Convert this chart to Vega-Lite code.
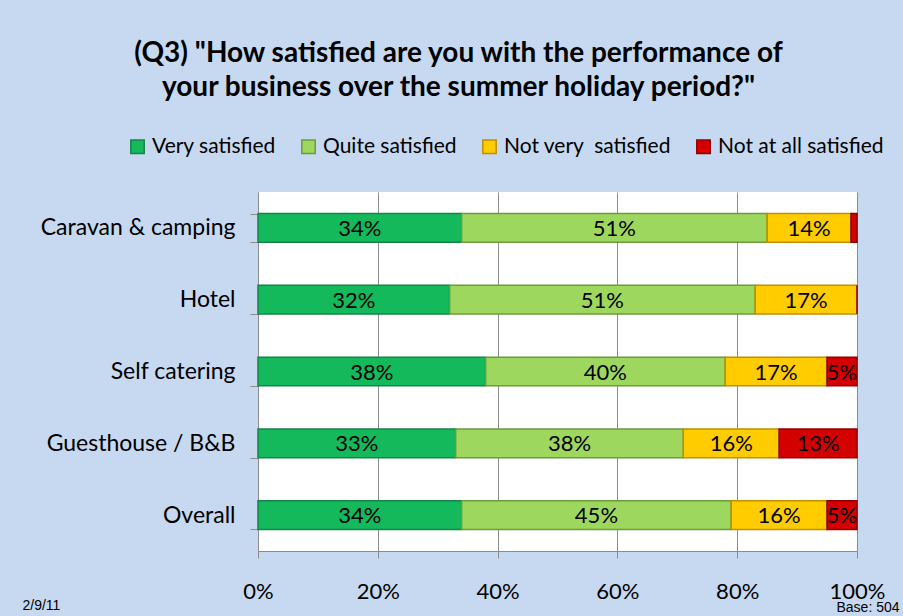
{
  "$schema": "https://vega.github.io/schema/vega-lite/v6.json",
  "width": 599,
  "height": 359,
  "autosize": {"type": "none"},
  "padding": {"left": 258, "top": 192, "right": 46, "bottom": 65},
  "background": "#C6D9F1",
  "config": {
    "view": {"stroke": null, "fill": "white"},
    "font": "Lato"
  },
  "title": {
    "text": ["(Q3) \"How satisfied are you with the performance of", "your business over the summer holiday period?\""],
    "fontSize": 28,
    "fontWeight": "bold",
    "font": "Lato",
    "color": "black",
    "anchor": "middle",
    "frame": "group",
    "dx": -99,
    "lineHeight": 34,
    "offset": 34
  },
  "data": {
    "values": [
      {"type": "Caravan & camping", "level": "Very satisfied", "k": 1, "pct": 34},
      {"type": "Caravan & camping", "level": "Quite satisfied", "k": 2, "pct": 51},
      {"type": "Caravan & camping", "level": "Not very  satisfied", "k": 3, "pct": 14},
      {"type": "Caravan & camping", "level": "Not at all satisfied", "k": 4, "pct": 1},
      {"type": "Hotel", "level": "Very satisfied", "k": 1, "pct": 32},
      {"type": "Hotel", "level": "Quite satisfied", "k": 2, "pct": 51},
      {"type": "Hotel", "level": "Not very  satisfied", "k": 3, "pct": 17},
      {"type": "Hotel", "level": "Not at all satisfied", "k": 4, "pct": 0},
      {"type": "Self catering", "level": "Very satisfied", "k": 1, "pct": 38},
      {"type": "Self catering", "level": "Quite satisfied", "k": 2, "pct": 40},
      {"type": "Self catering", "level": "Not very  satisfied", "k": 3, "pct": 17},
      {"type": "Self catering", "level": "Not at all satisfied", "k": 4, "pct": 5},
      {"type": "Guesthouse / B&B", "level": "Very satisfied", "k": 1, "pct": 33},
      {"type": "Guesthouse / B&B", "level": "Quite satisfied", "k": 2, "pct": 38},
      {"type": "Guesthouse / B&B", "level": "Not very  satisfied", "k": 3, "pct": 16},
      {"type": "Guesthouse / B&B", "level": "Not at all satisfied", "k": 4, "pct": 13},
      {"type": "Overall", "level": "Very satisfied", "k": 1, "pct": 34},
      {"type": "Overall", "level": "Quite satisfied", "k": 2, "pct": 45},
      {"type": "Overall", "level": "Not very  satisfied", "k": 3, "pct": 16},
      {"type": "Overall", "level": "Not at all satisfied", "k": 4, "pct": 5}
    ]
  },
  "transform": [
    {"stack": "pct", "groupby": ["type"], "sort": [{"field": "k", "order": "ascending"}], "as": ["v0", "v1"]},
    {"calculate": "(datum.v0 + datum.v1) / 2", "as": "mid"},
    {"calculate": "datum.pct + '%'", "as": "label"}
  ],
  "encoding": {
    "y": {
      "field": "type",
      "type": "nominal",
      "sort": ["Caravan & camping", "Hotel", "Self catering", "Guesthouse / B&B", "Overall"],
      "scale": {"paddingInner": 0.6, "paddingOuter": 0.3},
      "axis": {
        "title": "2/9/11",
        "titleAngle": 0,
        "titleX": -236,
        "titleY": 413,
        "titleAlign": "left",
        "titleBaseline": "middle",
        "titleFont": "Liberation Sans",
        "titleFontSize": 14,
        "titleFontWeight": "normal",
        "titleColor": "black",
        "labelFontSize": 23,
        "labelColor": "black",
        "labelPadding": 15,
        "labelLimit": 300,
        "tickBand": "extent",
        "tickSize": 8,
        "tickColor": "#8c8c8c",
        "domainColor": "#8c8c8c",
        "grid": false
      }
    }
  },
  "layer": [
    {
      "mark": {"type": "bar", "strokeWidth": 1.5},
      "encoding": {
        "x": {
          "field": "v0",
          "type": "quantitative",
          "scale": {"domain": [0, 100], "nice": false},
          "axis": {
            "values": [0, 20, 40, 60, 80, 100],
            "labelExpr": "datum.value + '%'",
            "labelFontSize": 22,
            "labelColor": "black",
            "labelPadding": 23,
            "tickSize": 7,
            "tickColor": "#8c8c8c",
            "domainColor": "#8c8c8c",
            "gridColor": "#8c8c8c",
            "gridOpacity": 1,
            "labelFlush": false,
            "title": "Base: 504",
            "titleX": 578,
            "titleY": 56,
            "titleAlign": "left",
            "titleBaseline": "middle",
            "titleFont": "Liberation Sans",
            "titleFontSize": 14,
            "titleFontWeight": "normal",
            "titleColor": "black"
          }
        },
        "x2": {"field": "v1"},
        "color": {
          "field": "level",
          "type": "nominal",
          "sort": ["Very satisfied", "Quite satisfied", "Not very  satisfied", "Not at all satisfied"],
          "scale": {
            "domain": ["Very satisfied", "Quite satisfied", "Not very  satisfied", "Not at all satisfied"],
            "range": ["#13B95B", "#9ED75E", "#FFCC00", "#D40000"]
          },
          "legend": {
            "title": null,
            "orient": "none",
            "direction": "horizontal",
            "legendX": -131,
            "legendY": -56,
            "symbolType": "square",
            "symbolSize": 180,
            "symbolOpacity": 1,
            "symbolStrokeWidth": 1.5,
            "labelFontSize": 21,
            "labelColor": "black",
            "labelOffset": 4,
            "columnPadding": 22,
            "labelLimit": 300,
            "labelExpr": "replace(datum.label, '  ', '\u00a0 ')"
          }
        },
        "stroke": {
          "field": "level",
          "type": "nominal",
          "scale": {
            "domain": ["Very satisfied", "Quite satisfied", "Not very  satisfied", "Not at all satisfied"],
            "range": ["#17834A", "#6E9A3F", "#C09000", "#900000"]
          },
          "legend": null
        }
      }
    },
    {
      "transform": [{"filter": "datum.pct >= 3"}],
      "mark": {"type": "text", "fontSize": 22, "color": "black", "baseline": "middle", "dy": 1},
      "encoding": {
        "x": {"field": "mid", "type": "quantitative"},
        "text": {"field": "label", "type": "nominal"},
        "tooltip": {"value": null}
      }
    }
  ]
}
